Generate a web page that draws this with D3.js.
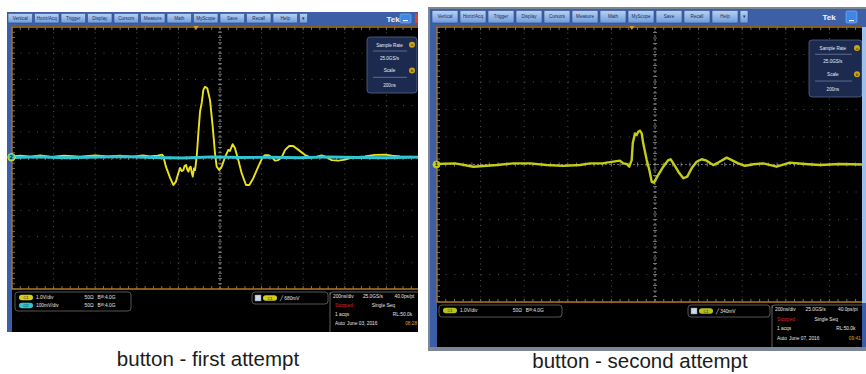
<!DOCTYPE html>
<html>
<head>
<meta charset="utf-8">
<script src="https://cdn.jsdelivr.net/npm/d3@7"></script>
<style>
  html, body { margin: 0; padding: 0; background: #ffffff; }
  svg { display: block; font-family: "Liberation Sans", Arial, sans-serif; }
</style>
</head>
<body>
<svg id="chart" width="866" height="374"></svg>
<script>
// ---- data -------------------------------------------------------------
const menuTabs = ["Vertical", "Horiz/Acq", "Trigger", "Display", "Cursors", "Measure",
                  "Math", "MyScope", "Save", "Recall", "Help", "\u25BE"];

// First attempt: CH1 in volts (1 V/div), time in ns (200 ns/div, 10 div)
const firstTimeNs = [0, 40, 90, 135, 190, 250, 327, 400, 460, 519, 580, 630, 663, 700, 721, 727,
  740, 760, 776, 788, 800, 808, 816, 824, 830, 837, 843, 848, 854, 859, 864, 869, 875, 880, 888,
  896, 904, 912, 920, 928, 939, 952, 965, 976, 984, 997, 1008, 1024, 1040, 1048, 1061, 1072, 1088,
  1104, 1125, 1141, 1160, 1184, 1205, 1216, 1232, 1249, 1264, 1280, 1297, 1313, 1333, 1352, 1377,
  1409, 1433, 1465, 1489, 1513, 1537, 1569, 1601, 1635, 1697, 1745, 1793, 1827, 1866, 1910, 1952];
const firstCh1V = [0.06, 0.09, 0.05, 0.1, 0.04, 0.09, 0.05, 0.1, 0.06, 0.09, 0.05, 0.1, 0.06, 0.09, 0.13, 0.08,
  -0.33, -0.76, -1.03, -0.90, -0.57, -0.38, -0.50, -0.46, -0.30, -0.27, -0.45, -0.52, -0.36, -0.33, -0.55, -0.71, -0.40, -0.46, 0.05,
  0.95, 1.77, 2.10, 2.60, 2.72, 2.66, 2.21, 1.19, 0.18, -0.33, -0.46, -0.33, 0.03, 0.31, 0.27, 0.53, 0.37, -0.08,
  -0.58, -1.03, -1.03, -0.77, -0.33, 0.03, 0.11, 0.11, 0.03, -0.10, -0.08, 0.03, 0.31, 0.46, 0.46, 0.31,
  0.11, 0.03, 0.05, 0.10, 0.03, -0.08, -0.10, -0.06, 0.02, 0.06, 0.12, 0.13, 0.09, 0.06, 0.05, 0.04];

// First attempt: CH2 in mV (100 mV/div)
const firstCh2TimeNs = [0, 120, 260, 400, 540, 680, 820, 960, 1100, 1240, 1380, 1520, 1660, 1800, 1952];
const firstCh2mV = [2, 4, 1, 3, 5, 2, 0, 4, 2, 3, 1, 4, 2, 1, 3];

// Second attempt: CH1 in volts (1 V/div), time in ns
const secondTimeNs = [0, 83, 167, 274, 349, 427, 503, 578, 656, 702, 761, 778, 839, 855, 870, 882,
  893, 898, 908, 916, 923, 931, 939, 946, 962, 974, 985, 995, 1015, 1038, 1061, 1072, 1084, 1107,
  1130, 1148, 1168, 1191, 1214, 1237, 1267, 1290, 1329, 1352, 1382, 1413, 1451, 1497, 1558, 1619,
  1688, 1757, 1849, 1950];
const secondCh1V = [0.02, 0.04, -0.08, -0.02, 0.04, 0.04, -0.02, -0.05, -0.02, 0.04, 0.04, 0.07, 0.14, 0.04, 0.02, -0.08,
  0.16, 0.77, 1.13, 1.07, 1.19, 1.23, 1.13, 0.77, 0.16, -0.20, -0.63, -0.66, -0.38, -0.08, 0.16, 0.19, 0.04, -0.26,
  -0.50, -0.44, -0.14, 0.10, 0.19, 0.14, -0.02, 0.07, 0.25, 0.16, 0.04, -0.05, 0.01, 0.04, -0.08, 0.07,
  0.02, -0.02, 0.02, 0.00];

const triggerNs = [885, 894];
const captions = ["button - first attempt", "button - second attempt"];

// ---- drawing ----------------------------------------------------------
const svg = d3.select("#chart");
const defs = svg.append("defs");
defs.append("filter").attr("id", "soft")
  .attr("filterUnits", "userSpaceOnUse").attr("x", 0).attr("y", 0).attr("width", 866).attr("height", 374)
  .append("feGaussianBlur").attr("stdDeviation", 0.45);
const grad = defs.append("linearGradient").attr("id", "tabGrad").attr("x1", 0).attr("y1", 0).attr("x2", 0).attr("y2", 1);
grad.append("stop").attr("offset", "0%").attr("stop-color", "#b9d2f4");
grad.append("stop").attr("offset", "100%").attr("stop-color", "#6f9ad9");

function drawScope(cfg, idx) {
  const g = svg.append("g");
  const P = cfg.plot;

  // window frame
  g.append("rect").attr("x", cfg.frame.x).attr("y", cfg.frame.y)
    .attr("width", cfg.frame.w).attr("height", cfg.frame.h).attr("fill", "#3b5ea6");
  // black working area (plot + status)
  g.append("rect").attr("x", P.x).attr("y", cfg.menu.y + cfg.menu.h)
    .attr("width", cfg.clipRight - P.x).attr("height", cfg.status.y + cfg.status.h - (cfg.menu.y + cfg.menu.h))
    .attr("fill", "#000");

  // menu bar
  const m = g.append("g");
  m.append("rect").attr("x", cfg.frame.x).attr("y", cfg.menu.y).attr("width", cfg.frame.w)
    .attr("height", cfg.menu.h).attr("fill", "#3d5fa6");
  menuTabs.forEach((t, i) => {
    const last = i === menuTabs.length - 1;
    const x = cfg.menu.x0 + i * cfg.menu.pitch;
    const w = last ? 8 : cfg.menu.tabW;
    m.append("rect").attr("x", x).attr("y", cfg.menu.y + 1.5).attr("width", w).attr("height", cfg.menu.h - 4.5)
      .attr("rx", 1).attr("fill", "url(#tabGrad)").attr("stroke", "#2b4c8c").attr("stroke-width", 0.6);
    m.append("text").attr("x", x + w / 2).attr("y", cfg.menu.y + cfg.menu.h / 2 + 0.8)
      .attr("text-anchor", "middle").attr("font-size", last ? 5 : 4.6).attr("fill", "#1d2e5e").text(t);
  });
  m.append("text").attr("x", cfg.tekX).attr("y", cfg.menu.y + cfg.menu.h / 2 + 2.5)
    .attr("text-anchor", "middle").attr("font-size", 8).attr("font-weight", "bold").attr("fill", "#f2f4fa").text("Tek");
  m.append("rect").attr("x", cfg.minX).attr("y", cfg.menu.y + 2).attr("width", 11).attr("height", cfg.menu.h - 5)
    .attr("rx", 1.5).attr("fill", "#3e86e6").attr("stroke", "#9cc3f5").attr("stroke-width", 0.5);
  m.append("rect").attr("x", cfg.minX + 3).attr("y", cfg.menu.y + cfg.menu.h - 6).attr("width", 5).attr("height", 1.2).attr("fill", "#fff");
  if (cfg.closeX) {
    m.append("rect").attr("x", cfg.closeX).attr("y", cfg.menu.y + 2).attr("width", cfg.clipRight - cfg.closeX)
      .attr("height", cfg.menu.h - 5).attr("fill", "#e0452b");
  }

  // scales
  const x = d3.scaleLinear().domain([0, 2000]).range([P.x, P.x + P.w]);
  const yDiv = d3.scaleLinear().domain([-5, 5]).range([P.y + P.h, P.y]);

  const clipId = "clip" + idx;
  defs.append("clipPath").attr("id", clipId).append("rect")
    .attr("x", P.x).attr("y", P.y).attr("width", cfg.clipRight - P.x).attr("height", P.h);
  const plot = g.append("g").attr("clip-path", `url(#${clipId})`);

  // graticule
  const majorX = d3.range(1, 10).map(d => d * 200);
  const majorY = d3.range(-4, 5);
  plot.selectAll(".gx").data(majorX.filter(d => d !== 1000)).join("line")
    .attr("x1", d => x(d)).attr("x2", d => x(d)).attr("y1", P.y).attr("y2", P.y + P.h)
    .attr("stroke", "#505050").attr("stroke-width", 1).attr("stroke-dasharray", `1,${(P.h / 50 - 1).toFixed(2)}`);
  plot.selectAll(".gy").data(majorY.filter(d => d !== 0)).join("line")
    .attr("x1", P.x).attr("x2", P.x + P.w).attr("y1", d => yDiv(d)).attr("y2", d => yDiv(d))
    .attr("stroke", "#505050").attr("stroke-width", 1).attr("stroke-dasharray", `1,${(P.w / 50 - 1).toFixed(2)}`);
  // centre cross
  plot.append("line").attr("x1", x(1000)).attr("x2", x(1000)).attr("y1", P.y).attr("y2", P.y + P.h)
    .attr("stroke", "#8a8a8a").attr("stroke-width", 1).attr("stroke-dasharray", "2,2");
  plot.append("line").attr("x1", P.x).attr("x2", P.x + P.w).attr("y1", yDiv(0)).attr("y2", yDiv(0))
    .attr("stroke", "#6a6a6a").attr("stroke-width", 1).attr("stroke-dasharray", "2,2");
  // minor ticks on centre cross and borders
  const minorX = d3.range(0, 51).map(d => d * 40);
  const minorY = d3.range(-25, 26).map(d => d / 5);
  const tickCol = "#8c8c8c";
  plot.selectAll(".tx").data(minorX).join("line")
    .attr("x1", d => x(d)).attr("x2", d => x(d))
    .attr("y1", yDiv(0) - 2).attr("y2", yDiv(0) + 2).attr("stroke", tickCol).attr("stroke-width", 0.8);
  plot.selectAll(".ty").data(minorY).join("line")
    .attr("x1", x(1000) - 2).attr("x2", x(1000) + 2)
    .attr("y1", d => yDiv(d)).attr("y2", d => yDiv(d)).attr("stroke", tickCol).attr("stroke-width", 0.8);
  plot.selectAll(".tt").data(minorX).join("line")
    .attr("x1", d => x(d)).attr("x2", d => x(d)).attr("y1", P.y).attr("y2", P.y + 3)
    .attr("stroke", tickCol).attr("stroke-width", 0.8);
  plot.selectAll(".tb").data(minorX).join("line")
    .attr("x1", d => x(d)).attr("x2", d => x(d)).attr("y1", P.y + P.h - 3).attr("y2", P.y + P.h)
    .attr("stroke", tickCol).attr("stroke-width", 0.8);
  plot.selectAll(".tl").data(minorY).join("line")
    .attr("x1", P.x).attr("x2", P.x + 3).attr("y1", d => yDiv(d)).attr("y2", d => yDiv(d))
    .attr("stroke", tickCol).attr("stroke-width", 0.8);

  // traces (later entries are drawn on top)
  cfg.traces.forEach(tr => {
    const y = d3.scaleLinear().domain([-5 * tr.perDiv, 5 * tr.perDiv]).range([P.y + P.h, P.y]);
    const line = d3.line().x(d => x(d[0])).y(d => y(d[1]));
    const pts = tr.t.map((t, i) => [t, tr.v[i]]);
    plot.append("path").datum(pts).attr("d", line).attr("fill", "none")
      .attr("stroke", tr.color).attr("stroke-width", tr.width)
      .attr("stroke-linejoin", "round").attr("filter", "url(#soft)");
  });

  // plot border
  g.append("path")
    .attr("d", `M${cfg.clipRight},${P.y} H${P.x} V${P.y + P.h} H${cfg.clipRight}`)
    .attr("fill", "none").attr("stroke", "#b27a22").attr("stroke-width", 1.3);

  // trigger position marker
  const tx = x(cfg.trigger);
  g.append("path").attr("d", `M${tx - 2.5},${P.y - 1} L${tx + 2.5},${P.y - 1} L${tx},${P.y + 3} Z`).attr("fill", "#e39a1c");

  // channel ground markers
  cfg.markers.forEach(mk => {
    const y = yDiv(0) + mk.dy;
    g.append("circle").attr("cx", P.x - 0.5).attr("cy", y).attr("r", 3.6)
      .attr("fill", mk.fill).attr("stroke", mk.stroke).attr("stroke-width", 0.8);
    g.append("text").attr("x", P.x - 0.5).attr("y", y + 1.8).attr("text-anchor", "middle")
      .attr("font-size", 5).attr("font-weight", "bold").attr("fill", "#000").text(mk.label);
  });

  // side readout box (sample rate / scale)
  const B = cfg.box;
  const bx = g.append("g");
  bx.append("rect").attr("x", B.x).attr("y", B.y).attr("width", B.w).attr("height", B.h).attr("rx", 3)
    .attr("fill", "#1c2a50").attr("stroke", "#56648a").attr("stroke-width", 0.8);
  const rows = [["Sample Rate", 0.14, "a"], ["25.0GS/s", 0.38], ["Scale", 0.6, "b"], ["200ns", 0.86]];
  rows.forEach(r => {
    const yy = B.y + r[1] * B.h;
    bx.append("text").attr("x", B.x + B.w * 0.45).attr("y", yy + 1.8).attr("text-anchor", "middle")
      .attr("font-size", 4.6).attr("fill", "#e8ecf6").text(r[0]);
    if (r[2]) {
      bx.append("circle").attr("cx", B.x + B.w - 5).attr("cy", yy).attr("r", 3).attr("fill", "#c9a416");
      bx.append("text").attr("x", B.x + B.w - 5).attr("y", yy + 1.6).attr("text-anchor", "middle")
        .attr("font-size", 4).attr("fill", "#2b2100").text(r[2]);
    }
  });
  [0.25, 0.72].forEach(f => {
    bx.append("line").attr("x1", B.x + 6).attr("x2", B.x + B.w - 10).attr("y1", B.y + f * B.h).attr("y2", B.y + f * B.h)
      .attr("stroke", "#8d98b6").attr("stroke-width", 0.6);
  });

  // status area
  const S = cfg.status;
  const st = g.append("g").attr("font-size", 4.8).attr("fill", "#e6e6e6");
  const chBox = cfg.chBox;
  st.append("rect").attr("x", chBox.x).attr("y", chBox.y).attr("width", chBox.w).attr("height", chBox.h)
    .attr("rx", 3).attr("fill", "none").attr("stroke", "#6b6b6b").attr("stroke-width", 0.8);
  cfg.channels.forEach((c, i) => {
    const yy = chBox.y + 5.5 + i * 8;
    st.append("rect").attr("x", chBox.x + 4).attr("y", yy - 2.8).attr("width", 14).attr("height", 5.6)
      .attr("rx", 2.8).attr("fill", c.color);
    st.append("text").attr("x", chBox.x + 11).attr("y", yy + 1.7).attr("text-anchor", "middle")
      .attr("font-size", 4).attr("fill", "#222").text(c.name);
    st.append("text").attr("x", chBox.x + 21).attr("y", yy + 1.7).text(c.scale);
    st.append("text").attr("x", chBox.x + chBox.w * 0.6).attr("y", yy + 1.7).text("50\u03A9");
    st.append("text").attr("x", chBox.x + chBox.w * 0.6 + 13).attr("y", yy + 1.7).text("B\u1D42:4.0G");
  });
  const T = cfg.trigBox;
  st.append("rect").attr("x", T.x).attr("y", T.y).attr("width", T.w).attr("height", T.h)
    .attr("rx", 3).attr("fill", "none").attr("stroke", "#6b6b6b").attr("stroke-width", 0.8);
  st.append("rect").attr("x", T.x + 3).attr("y", T.y + T.h / 2 - 3).attr("width", 6).attr("height", 6)
    .attr("fill", "#cfd6e6").attr("stroke", "#7c88a8").attr("stroke-width", 0.5);
  st.append("rect").attr("x", T.x + 11).attr("y", T.y + T.h / 2 - 2.8).attr("width", 14).attr("height", 5.6)
    .attr("rx", 2.8).attr("fill", cfg.channels[0].color);
  st.append("text").attr("x", T.x + 18).attr("y", T.y + T.h / 2 + 1.6).attr("text-anchor", "middle")
    .attr("font-size", 4).attr("fill", "#222").text("C1");
  st.append("text").attr("x", T.x + 28).attr("y", T.y + T.h / 2 + 1.7).text("\u2571 " + cfg.trigLevel);

  const R = cfg.info;
  st.append("line").attr("x1", R.x).attr("x2", R.x).attr("y1", R.y).attr("y2", S.y + S.h)
    .attr("stroke", "#7a7a7a").attr("stroke-width", 0.8);
  st.append("path").attr("d", `M${R.x},${R.y + 3} Q${R.x},${R.y} ${R.x + 3},${R.y} H${cfg.clipRight}`)
    .attr("fill", "none").attr("stroke", "#7a7a7a").attr("stroke-width", 0.8);
  const c0 = R.x + 3, lh = R.lh;
  st.append("text").attr("x", c0).attr("y", R.y + 6).text("200ns/div");
  st.append("text").attr("x", c0 + R.w * 0.34).attr("y", R.y + 6).text("25.0GS/s");
  st.append("text").attr("x", c0 + R.w * 0.7).attr("y", R.y + 6).text("40.0ps/pt");
  st.append("text").attr("x", c0 + 2).attr("y", R.y + 6 + lh).attr("fill", "#e02020").text("Stopped");
  st.append("text").attr("x", c0 + R.w * 0.44).attr("y", R.y + 6 + lh).text("Single Seq");
  st.append("text").attr("x", c0 + 2).attr("y", R.y + 6 + 2 * lh).text("1 acqs");
  st.append("text").attr("x", c0 + R.w * 0.68).attr("y", R.y + 6 + 2 * lh).text("RL:50.0k");
  st.append("text").attr("x", c0 + 2).attr("y", R.y + 6 + 3 * lh).text("Auto");
  st.append("text").attr("x", c0 + 14).attr("y", R.y + 6 + 3 * lh).text(cfg.date);
  st.append("text").attr("x", c0 + R.w * 0.82).attr("y", R.y + 6 + 3 * lh).attr("fill", "#e0a020").text(cfg.time);

  // caption
  svg.append("text").attr("x", cfg.caption.x).attr("y", cfg.caption.y).attr("text-anchor", "middle")
    .attr("font-size", 20.5).attr("fill", "#1b1b1b").text(captions[idx]);
}

// right-hand window chrome (drawn first so the left window sits beside it)
svg.append("rect").attr("x", 428).attr("y", 7).attr("width", 438).attr("height", 344).attr("fill", "#7b8796");

drawScope({
  frame: { x: 7, y: 12, w: 411, h: 320 },
  menu: { y: 12, h: 14, x0: 8, pitch: 26.5, tabW: 24.5 },
  tekX: 393, minX: 400, closeX: 415,
  plot: { x: 12, y: 27, w: 416, h: 262 },
  clipRight: 418,
  status: { y: 290, h: 42 },
  trigger: triggerNs[0],
  traces: [
    { t: firstTimeNs, v: firstCh1V, perDiv: 1, color: "#ece21c", width: 1.9 },
    { t: firstCh2TimeNs, v: firstCh2mV, perDiv: 100, color: "#2fc6d2", width: 2.8 }
  ],
  markers: [{ label: "1", fill: "#e3d81a", stroke: "#e3d81a", dy: -0.5 },
            { label: "2", fill: "#2fc6d2", stroke: "#e3d81a", dy: -1 }],
  box: { x: 367, y: 37, w: 50, h: 56 },
  chBox: { x: 15, y: 292, w: 116, h: 19 },
  channels: [{ name: "C1", scale: "1.0V/div", color: "#d6cc1a" }, { name: "C2", scale: "100mV/div", color: "#2fc6d2" }],
  trigBox: { x: 252, y: 292, w: 76, h: 12 },
  trigLevel: "680mV",
  info: { x: 330, y: 292, w: 88, lh: 9 },
  date: "June 03, 2016", time: "08:28",
  caption: { x: 208, y: 366 }
}, 0);

drawScope({
  frame: { x: 430, y: 9, w: 436, h: 338 },
  menu: { y: 9, h: 17, x0: 432, pitch: 28, tabW: 26 },
  tekX: 829, minX: 846, closeX: null,
  plot: { x: 437, y: 27, w: 436, h: 275 },
  clipRight: 862,
  status: { y: 303, h: 44 },
  trigger: triggerNs[1],
  traces: [
    { t: secondTimeNs, v: secondCh1V, perDiv: 1, color: "#c3cd14", width: 2.4 }
  ],
  markers: [{ label: "1", fill: "#c3cd14", stroke: "#c3cd14", dy: 0 }],
  box: { x: 809, y: 40, w: 53, h: 57 },
  chBox: { x: 439, y: 305, w: 123, h: 12 },
  channels: [{ name: "C1", scale: "1.0V/div", color: "#b9c21a" }],
  trigBox: { x: 688, y: 305, w: 82, h: 12 },
  trigLevel: "340mV",
  info: { x: 772, y: 305, w: 90, lh: 9.5 },
  date: "June 07, 2016", time: "09:41",
  caption: { x: 640, y: 368 }
}, 1);

// light strip on the far right edge of the second window
svg.append("rect").attr("x", 862).attr("y", 27).attr("width", 4).attr("height", 276).attr("fill", "#9fc0e8");
</script>
</body>
</html>
